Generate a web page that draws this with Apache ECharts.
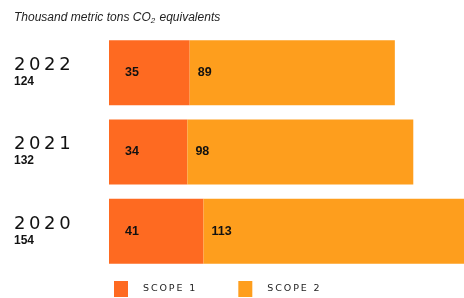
<!DOCTYPE html>
<html>
<head>
<meta charset="utf-8">
<script src="https://cdn.jsdelivr.net/npm/echarts@6/dist/echarts.min.js"></script>
<style>
  html, body { margin: 0; padding: 0; background: #fff; }
  #chart { width: 464px; height: 298px; }
</style>
</head>
<body>
<div id="chart"></div>
<script>
// emissions, thousand metric tons CO2e
var years = ['2022', '2021', '2020']
var totals = [124, 132, 154]
var scope1 = [35, 34, 41]
var scope2 = [89, 98, 113]

// wide display type: space the glyphs out a bit
function spaced(s, sep) {
  return s.split('').join(sep)
}

var chart = echarts.init(document.getElementById('chart'))

chart.setOption({
  animation: false,
  title: {
    text: 'Thousand metric tons CO{sub|2} equivalents',
    left: 9,
    top: 6,
    textStyle: {
      fontFamily: 'Liberation Sans',
      fontStyle: 'italic',
      fontWeight: 'normal',
      fontSize: 12,
      color: '#222',
      rich: {
        sub: { fontSize: 8, fontStyle: 'italic', verticalAlign: 'bottom', padding: [6, 1, 0, 0], color: '#222' }
      }
    }
  },
  grid: {
    left: 109,
    right: 0,
    top: 33,
    bottom: 27
  },
  legend: {
    data: ['SCOPE 1', 'SCOPE 2'],
    left: 109,
    top: 276,
    icon: 'rect',
    itemWidth: 14,
    itemHeight: 16,
    itemGap: 43,
    formatter: function (name) {
      return spaced(name, '\u2009')
    },
    textStyle: {
      fontFamily: 'DejaVu Sans',
      fontSize: 9.5,
      color: '#222',
      padding: [0, 0, 0, 10]
    }
  },
  xAxis: {
    type: 'value',
    min: 0,
    max: 154,
    show: false
  },
  yAxis: {
    type: 'category',
    data: years,
    inverse: true,
    axisLine: { show: false },
    axisTick: { show: false },
    axisLabel: {
      align: 'left',
      margin: 95,
      formatter: function (val, i) {
        return '{y|' + spaced(val, '\u2009') + '}\n{t|' + totals[i] + '}'
      },
      rich: {
        y: { fontFamily: 'DejaVu Sans', fontSize: 18, color: '#111', lineHeight: 18 },
        t: { fontFamily: 'Liberation Sans', fontWeight: 'bold', fontSize: 12, color: '#111', lineHeight: 15 }
      }
    }
  },
  series: [
    {
      name: 'SCOPE 1',
      type: 'bar',
      stack: 'total',
      barWidth: 65,
      data: scope1,
      itemStyle: { color: '#FE6A21' },
      label: {
        show: true,
        position: 'insideLeft',
        distance: 16,
        color: '#111',
        fontFamily: 'Liberation Sans',
        fontWeight: 'bold',
        fontSize: 12.5
      }
    },
    {
      name: 'SCOPE 2',
      type: 'bar',
      stack: 'total',
      barWidth: 65,
      data: scope2,
      itemStyle: { color: '#FE9E1D' },
      label: {
        show: true,
        position: 'insideLeft',
        distance: 8,
        color: '#111',
        fontFamily: 'Liberation Sans',
        fontWeight: 'bold',
        fontSize: 12.5
      }
    }
  ]
})
</script>
</body>
</html>
